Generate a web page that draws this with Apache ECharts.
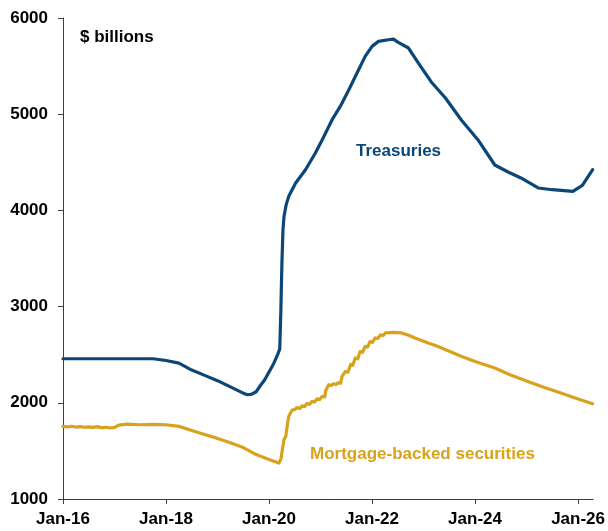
<!DOCTYPE html>
<html>
<head>
<meta charset="utf-8">
<script src="https://cdn.jsdelivr.net/npm/echarts@6/dist/echarts.min.js"></script>
<style>
  html, body { margin: 0; padding: 0; background: #ffffff; }
  #chart { width: 608px; height: 531px; }
</style>
</head>
<body>
<div id="chart"></div>
<script>
// Fed holdings, $ billions; x is months since Jan 2016
var tickMonths = [0, 24, 48, 72, 96, 120];
var tickLabels = ['Jan-16', 'Jan-18', 'Jan-20', 'Jan-22', 'Jan-24', 'Jan-26'];

var treasuryMonths = [0, 6, 12, 18, 21, 24, 27, 30, 33, 36, 39, 42, 43, 44, 45, 46, 47, 48, 49, 50, 50.5,
  50.75, 51, 51.25, 51.5, 52, 52.6, 54.2, 56.5, 58.8, 60.4, 62.7, 64.6, 66.6, 68.5, 70.4, 72, 73.5,
  75.8, 77, 78, 80.5, 82.8, 85.8, 89.1, 92.8, 96.7, 100.6, 103.7, 106.7, 110.7, 114, 118.8, 121, 123.4];
var treasuryValues = [2458, 2458, 2458, 2458, 2458, 2440, 2412, 2340, 2285, 2230, 2165, 2100, 2084, 2090, 2115, 2180, 2240, 2320, 2400, 2500, 2560,
  2950, 3450, 3800, 3940, 4060, 4146, 4285, 4423, 4597, 4735, 4943, 5081, 5255, 5428, 5601, 5705, 5757,
  5774, 5780, 5750, 5688, 5532, 5335, 5168, 4940, 4732, 4472, 4399, 4337, 4233, 4215, 4197, 4260, 4423];

var mbsMonths = [0, 1, 2, 3, 4, 5, 6, 7, 8, 9, 10, 11, 12, 13, 14, 15, 18, 21, 24, 27, 30, 33, 36, 39, 42, 45, 48, 50.3,
  50.8, 51.1, 51.5, 51.9, 52.3, 52.6, 53.4, 54, 54.5, 55.2, 55.7, 56.3, 56.8, 57.5, 58, 58.6, 59.2, 59.8, 60.4, 61, 61.2, 61.9,
  62.5, 63, 63.6, 64.2, 64.7, 65, 65.8, 66.4, 67, 67.5, 68.1, 68.7, 69.2, 69.8, 70.4, 71, 71.5, 72.1, 72.7, 73.3, 74, 74.6, 75.1,
  77, 78.9, 80.5, 82, 85.1, 87.4, 90, 92.9, 96, 100.6, 104, 108.3, 112, 116, 120, 123.4];
var mbsValues = [1755, 1750, 1756, 1748, 1752, 1746, 1750, 1744, 1752, 1740, 1746, 1738, 1745, 1768, 1774, 1778, 1772, 1776, 1772, 1755, 1712, 1670, 1630, 1585, 1535, 1462, 1410, 1374,
  1420, 1512, 1620, 1651, 1780, 1860, 1925, 1930, 1950, 1942, 1968, 1960, 1992, 1985, 2015, 2008, 2042, 2035, 2067, 2062, 2125, 2188,
  2180, 2198, 2190, 2210, 2205, 2275, 2326, 2318, 2398, 2390, 2466, 2458, 2532, 2524, 2587, 2580, 2636, 2628, 2674, 2668, 2706, 2700, 2726,
  2732, 2726, 2702, 2674, 2622, 2586, 2535, 2482, 2430, 2362, 2295, 2222, 2162, 2102, 2040, 1990];

function pairs(xs, ys) {
  return xs.map(function (x, i) { return [x, ys[i]]; });
}

var navy = '#0B4677';
var gold = '#D8A21C';
var fontFamily = 'Liberation Sans, Arial, sans-serif';

var chart = echarts.init(document.getElementById('chart'), null, { renderer: 'canvas' });
chart.setOption({
  animation: false,
  backgroundColor: '#ffffff',
  grid: { left: 63, right: 13, top: 18, bottom: 32, containLabel: false },
  xAxis: {
    type: 'value',
    min: 0,
    max: 123.5,
    interval: 24,
    splitLine: { show: false },
    axisLine: { show: true, lineStyle: { color: '#404040', width: 1 } },
    axisTick: { show: true, length: 5, inside: false, customValues: tickMonths, lineStyle: { color: '#404040' } },
    axisLabel: {
      show: true,
      customValues: tickMonths,
      margin: 12,
      color: '#000000',
      fontFamily: fontFamily,
      fontWeight: 'bold',
      fontSize: 17,
      formatter: function (v) {
        var i = tickMonths.indexOf(Math.round(v));
        return i >= 0 ? tickLabels[i] : '';
      }
    }
  },
  yAxis: {
    type: 'value',
    min: 1000,
    max: 6000,
    interval: 1000,
    splitLine: { show: false },
    axisLine: { show: true, lineStyle: { color: '#404040', width: 1 } },
    axisTick: { show: true, length: 5, lineStyle: { color: '#404040' } },
    axisLabel: {
      margin: 15,
      color: '#000000',
      fontFamily: fontFamily,
      fontWeight: 'bold',
      fontSize: 17,
      formatter: function (v) { return String(v); }
    }
  },
  graphic: [
    { type: 'text', left: 80, top: 29, style: { text: '$ billions', fill: '#000000', font: 'bold 17px ' + fontFamily } },
    { type: 'text', left: 356, top: 143, style: { text: 'Treasuries', fill: navy, font: 'bold 17px ' + fontFamily } },
    { type: 'text', left: 310, top: 446, style: { text: 'Mortgage-backed securities', fill: gold, font: 'bold 17px ' + fontFamily } }
  ],
  series: [
    {
      name: 'Treasuries',
      type: 'line',
      data: pairs(treasuryMonths, treasuryValues),
      showSymbol: false,
      smooth: false,
      lineStyle: { color: navy, width: 3.2, join: 'round', cap: 'round' }
    },
    {
      name: 'Mortgage-backed securities',
      type: 'line',
      data: pairs(mbsMonths, mbsValues),
      showSymbol: false,
      smooth: false,
      lineStyle: { color: gold, width: 3.2, join: 'round', cap: 'round' }
    }
  ]
});
</script>
</body>
</html>
